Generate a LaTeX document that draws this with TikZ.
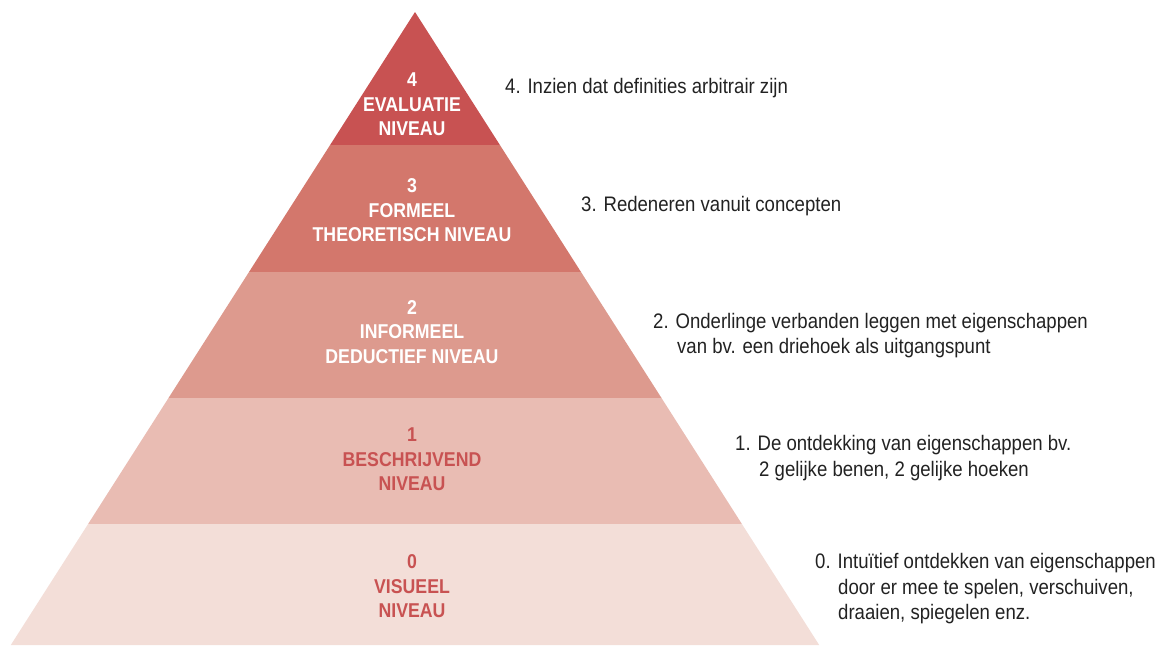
\documentclass[tikz,border=0pt]{standalone}
\usepackage{fontspec}
\setmainfont[FakeStretch=0.885]{Liberation Sans}
\definecolor{cfour}{HTML}{C85252}
\definecolor{cthree}{HTML}{D3776C}
\definecolor{ctwo}{HTML}{DD9A8E}
\definecolor{cone}{HTML}{E9BCB3}
\definecolor{czero}{HTML}{F3DED8}
\definecolor{txt}{HTML}{222222}
\begin{document}
\begin{tikzpicture}[x=1pt,y=-1pt,
  lbl/.style={font=\fontsize{20}{24.5}\selectfont\bfseries, align=center, inner sep=0pt, anchor=center},
  desc/.style={font=\fontsize{21}{25.5}\selectfont, inner sep=0pt, anchor=base west, text=txt}]
\useasboundingbox (0,0) rectangle (1157,646);
% bands
\fill[cfour] (415,12) -- (499.9,145) -- (330.1,145) -- cycle;
\fill[cthree] (330.1,145) -- (499.9,145) -- (581,272) -- (249,272) -- cycle;
\fill[ctwo] (249,272) -- (581,272) -- (661.5,398) -- (168.5,398) -- cycle;
\fill[cone] (168.5,398) -- (661.5,398) -- (741.9,524) -- (88.1,524) -- cycle;
\fill[czero] (88.1,524) -- (741.9,524) -- (819.2,645) -- (10.8,645) -- cycle;
% labels
\node[lbl, text=white] (l4) at (412,104.5) {4\\EVALUATIE\\NIVEAU};
\node[lbl, text=white] (l3) at (412,210.5) {3\\FORMEEL\\THEORETISCH NIVEAU};
\node[lbl, text=white] (l2) at (412,332) {2\\INFORMEEL\\DEDUCTIEF NIVEAU};
\node[lbl, text=cfour] (l1) at (412,459.5) {1\\BESCHRIJVEND\\NIVEAU};
\node[lbl, text=cfour] (l0) at (412,586.5) {0\\VISUEEL\\NIVEAU};
% descriptions
\node[desc] (d4) at (505,93) {4. Inzien dat definities arbitrair zijn};
\node[desc] (d3) at (581,211.7) {3. Redeneren vanuit concepten};
\node[desc] (d2a) at (653,328) {2. Onderlinge verbanden leggen met eigenschappen};
\node[desc] (d2b) at (677,353.5) {van bv. een driehoek als uitgangspunt};
\node[desc] (d1a) at (735,450.5) {1. De ontdekking van eigenschappen bv.};
\node[desc] (d1b) at (759,476) {2 gelijke benen, 2 gelijke hoeken};
\node[desc] (d0a) at (815,568) {0. Intuïtief ontdekken van eigenschappen};
\node[desc] (d0b) at (838,594) {door er mee te spelen, verschuiven,};
\node[desc] (d0c) at (838,619.5) {draaien, spiegelen enz.};
\end{tikzpicture}
\end{document}
